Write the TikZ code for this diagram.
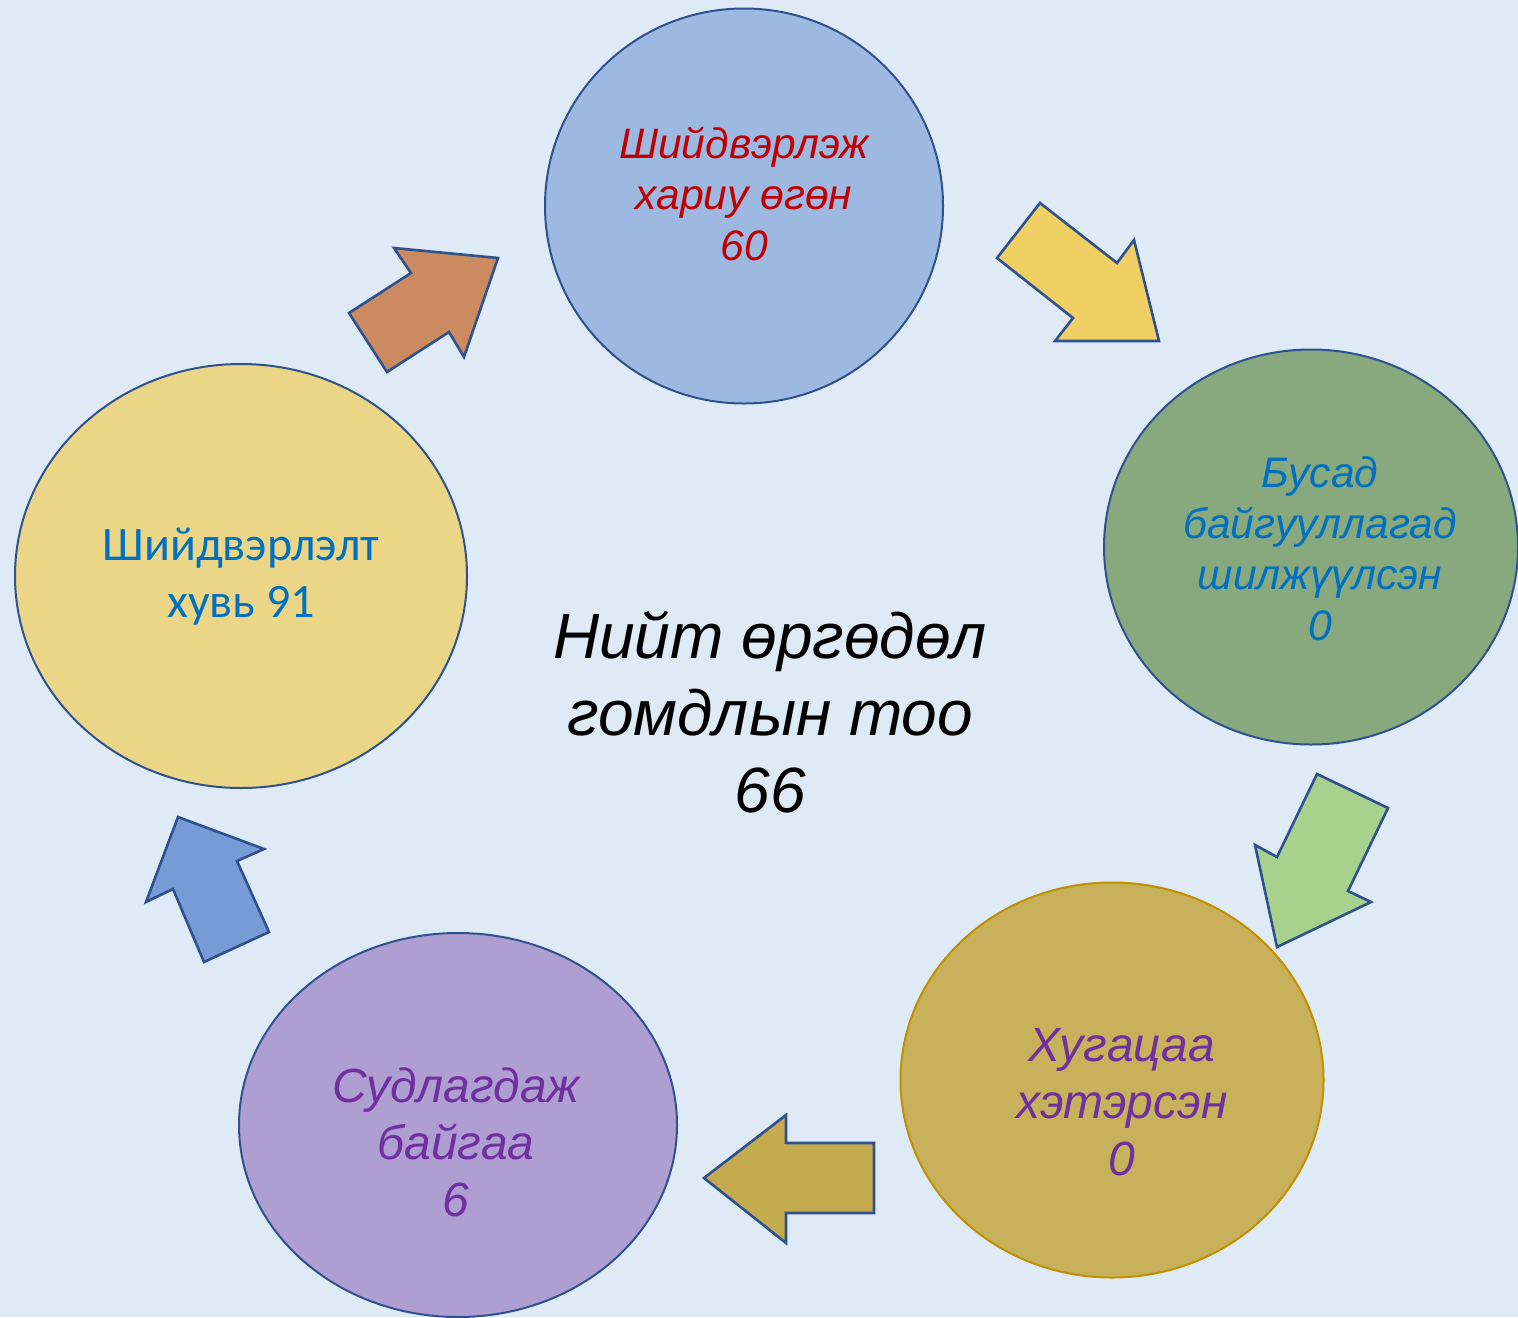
\documentclass[tikz,border=0pt]{standalone}
\usepackage{fontspec}
\setmainfont{Liberation Sans}
\newfontfamily\calibri{Carlito}
\usetikzlibrary{shapes.geometric}
\definecolor{bgblue}{HTML}{DEEAF6}
\definecolor{edgeblue}{HTML}{2F528F}
\definecolor{edgegold}{HTML}{BF9000}
\definecolor{ovblue}{HTML}{9DB8E1}
\definecolor{ovgreen}{HTML}{88A87D}
\definecolor{ovgold}{HTML}{C9B05B}
\definecolor{ovpurple}{HTML}{AF9ED2}
\definecolor{ovyellow}{HTML}{EBD687}
\definecolor{txtred}{HTML}{C00000}
\definecolor{txtblue}{HTML}{0070C0}
\definecolor{txtpurple}{HTML}{7030A0}
\definecolor{arrorange}{HTML}{CC8A60}
\definecolor{arryellow}{HTML}{F0D062}
\definecolor{arrgreen}{HTML}{A8D18D}
\definecolor{arrolive}{HTML}{C4AC4E}
\definecolor{arrblue}{HTML}{779BD5}

\begin{document}
\begin{tikzpicture}[line join=miter,x=0.5pt,y=-0.5pt,
  oval/.style={ellipse,draw=edgeblue,line width=1pt,inner sep=0pt},
  txt/.style={align=center,font=\itshape\fontsize{21.3}{25.5}\selectfont},
  bigtxt/.style={align=center,font=\itshape\fontsize{24}{28.5}\selectfont},
  blk/.style={draw=edgeblue,line width=1.3pt}]
\useasboundingbox (0,0) rectangle (1518,1317);
\fill[bgblue] (0,0) rectangle (1518,1317);
% ovals
\node[oval,fill=ovblue,minimum width=199pt,minimum height=197.5pt] (answered) at (744,206) {};
\node[oval,fill=ovgreen,minimum width=207pt,minimum height=197.5pt] (transferred) at (1311,547) {};
\node[oval,fill=ovgold,draw=edgegold,minimum width=211.5pt,minimum height=197.5pt] (overdue) at (1112,1080) {};
\node[oval,fill=ovpurple,minimum width=219pt,minimum height=192pt] (pending) at (458,1125) {};
\node[oval,fill=ovyellow,minimum width=226pt,minimum height=212pt] (rate) at (241,576) {};
% texts
\node[txt,text=txtred] (answeredtext) at (744,194) {Шийдвэрлэж\\хариу өгөн\\60};
\node[txt,text=txtblue] (transferredtext) at (1320,549) {Бусад\\байгууллагад\\шилжүүлсэн\\0};
\node[bigtxt,text=txtpurple] (overduetext) at (1122,1102) {Хугацаа\\хэтэрсэн\\0};
\node[bigtxt,text=txtpurple] (pendingtext) at (456,1142) {Судлагдаж\\байгаа\\6};
\node[align=center,text=txtblue,font=\calibri\fontsize{24}{28.5}\selectfont] (ratetext) at (241,577) {Шийдвэрлэлт\\хувь 91};
\node[align=center,font=\itshape\fontsize{32}{38.5}\selectfont] (total) at (770,712) {Нийт өргөдөл\\гомдлын тоо\\66};
% block arrows
\draw[blk,fill=arrorange] (394,248) -- (411,273) -- (349,313) -- (387,372) -- (449,332) -- (464,357) -- (498,258) -- cycle;
\draw[blk,fill=arryellow] (1040,203) -- (997,258) -- (1073,318) -- (1055,341) -- (1159,341) -- (1134,240) -- (1117,263) -- cycle;
\draw[blk,fill=arrgreen] (1317,774) -- (1388,808) -- (1348,891) -- (1371,902) -- (1277,947) -- (1255,845) -- (1277,857) -- cycle;
\draw[blk,fill=arrolive] (704,1178) -- (786,1115) -- (786,1143) -- (874,1143) -- (874,1213) -- (786,1213) -- (786,1243) -- cycle;
\draw[blk,fill=arrblue] (178,817) -- (264,849) -- (237,861) -- (269,932) -- (204,962) -- (173,889) -- (146,902) -- cycle;
\end{tikzpicture}
\end{document}
